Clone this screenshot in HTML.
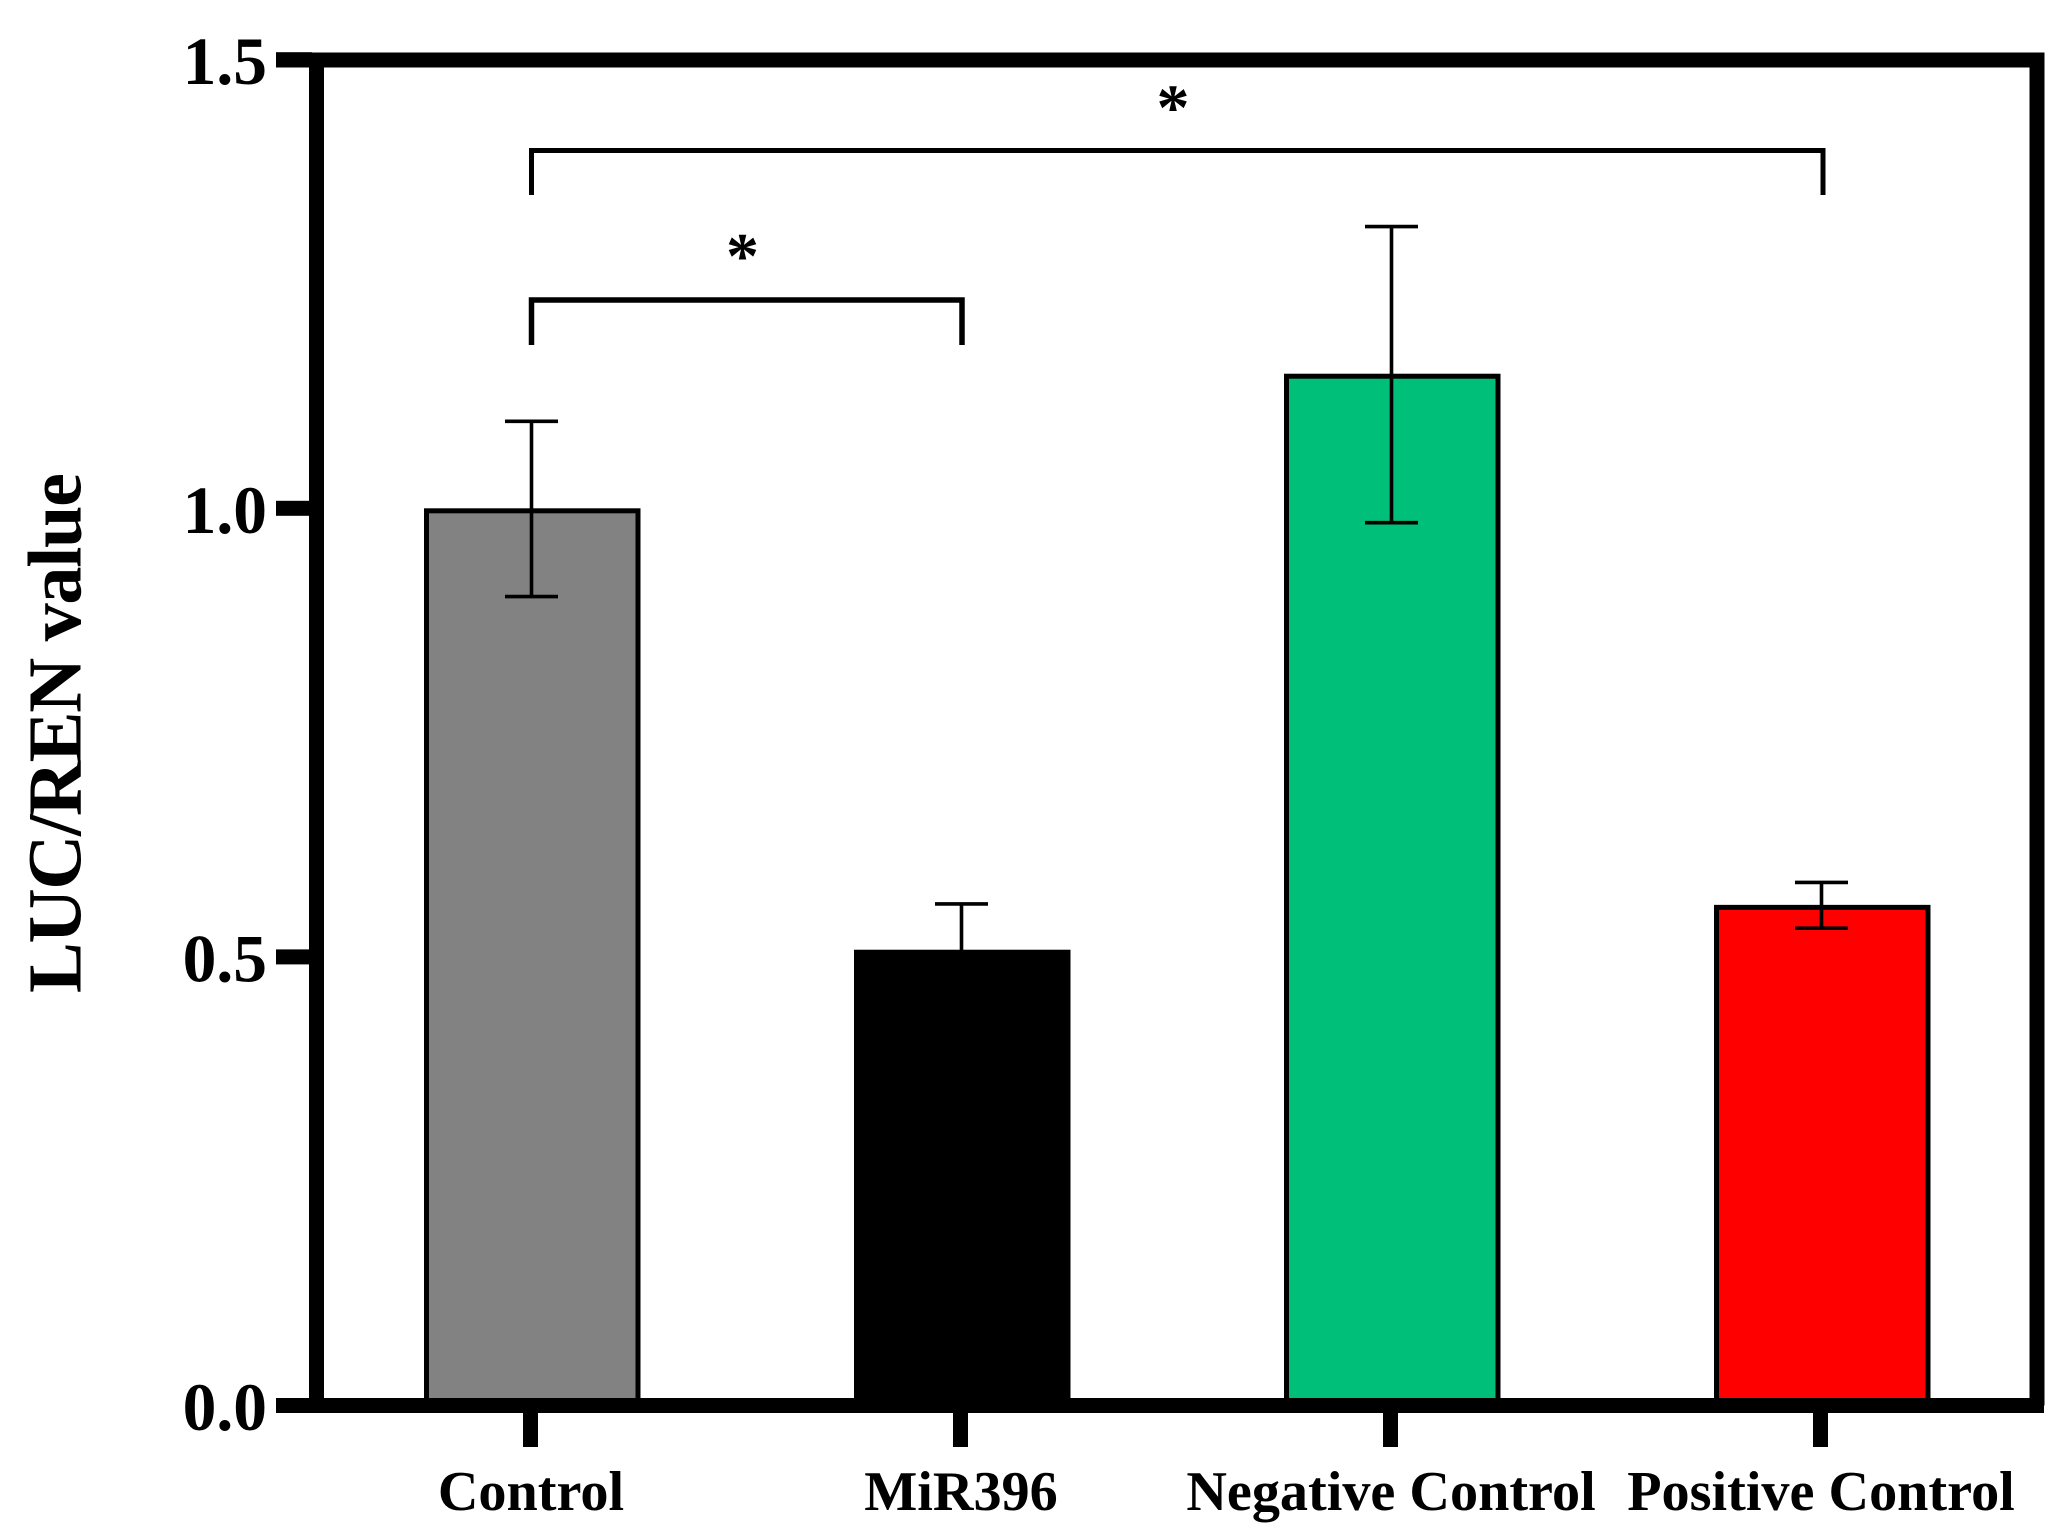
<!DOCTYPE html>
<html lang="en">
<head>
<meta charset="utf-8">
<title>LUC/REN value bar chart</title>
<style>
html,body{margin:0;padding:0;background:#fff;width:2068px;height:1538px;overflow:hidden}
svg{display:block;font-family:"Liberation Serif",serif;font-weight:bold}
</style>
</head>
<body>
<svg id="chart" xmlns="http://www.w3.org/2000/svg" width="2068" height="1538" viewBox="0 0 2068 1538"></svg>
<script>
const categories = ["Control", "MiR396", "Negative Control", "Positive Control"];
const barValues = [1.0, 0.508, 1.15, 0.558];
const errorUpper = [1.097, 0.559, 1.314, 0.583];
const errorLower = [0.9016, 0.457, 0.984, 0.532];
const barColors = ["#828282", "#000000", "#00bf78", "#ff0000"];
const yTickValues = [0, 0.5, 1.0, 1.5];
const yTickLabels = ["0.0", "0.5", "1.0", "1.5"];
const yAxisTitle = "LUC/REN value";

const svg = document.getElementById('chart');
const NS = 'http://www.w3.org/2000/svg';
function y(v){ return 1405.5 - v * 897.2; }
function x(i){ return 531.5 + i * 430; }
function add(tag, attrs, text){
  const el = document.createElementNS(NS, tag);
  for (const k in attrs) el.setAttribute(k, attrs[k]);
  if (text !== undefined) el.textContent = text;
  svg.appendChild(el);
  return el;
}

// bars
categories.forEach(function(c, i){
  const top = y(barValues[i]);
  const bar = add('rect', {x: x(i) - 105, y: top + 2.5, width: 211.5, height: 1400 - top, fill: barColors[i], stroke: '#000', 'stroke-width': 5});
  
  
});

// error bars
categories.forEach(function(c, i){
  const cx = x(i);
  const stem = add('line', {x1: cx, x2: cx, y1: y(errorUpper[i]), y2: y(errorLower[i]), stroke: '#000', 'stroke-width': 3.6});
  
  
  const capTop = add('line', {x1: cx - 26.5, x2: cx + 26.5, y1: y(errorUpper[i]), y2: y(errorUpper[i]), stroke: '#000', 'stroke-width': 3.6});
  
  
  const capBottom = add('line', {x1: cx - 26.5, x2: cx + 26.5, y1: y(errorLower[i]), y2: y(errorLower[i]), stroke: '#000', 'stroke-width': 3.6});
  
  
});

// frame
const frame = add('path', {d: 'M276 60 H2037 V1405.5 M316.5 60 V1405.5 M276 1405.5 H2044', fill: 'none', stroke: '#000', 'stroke-width': 15});



// y ticks and labels
yTickValues.forEach(function(v, i){
  const t = add('rect', {x: 276, y: y(v) - 7.5, width: 36, height: 15, fill: '#000'});
  
  
  const l = add('text', {x: 267, y: y(v) + 24.5, 'text-anchor': 'end', 'font-size': 67.5, fill: '#000'}, yTickLabels[i]);
  
  
});

// x ticks and labels
categories.forEach(function(c, i){
  const t = add('rect', {x: x(i) - 8.5, y: 1410, width: 15, height: 37, fill: '#000'});
  
  
  const l = add('text', {x: x(i) - 0.5, y: 1510, 'text-anchor': 'middle', 'font-size': 56.2, fill: '#000'}, c);
  
  
});

// y axis title
const title = add('text', {transform: 'translate(80.5 993) rotate(-90)', 'font-size': 76.3, textLength: 520, lengthAdjust: 'spacing', fill: '#000'}, yAxisTitle);



// significance brackets
const b1 = add('path', {d: 'M531.5 345 V300 H962 V345', fill: 'none', stroke: '#000', 'stroke-width': 5.5});


const b2 = add('path', {d: 'M531.5 195 V150.5 H1823 V195', fill: 'none', stroke: '#000', 'stroke-width': 5});


const s1 = add('text', {x: 742.5, y: 278, 'text-anchor': 'middle', 'font-size': 66, fill: '#000'}, '*');


const s2 = add('text', {x: 1173, y: 129.5, 'text-anchor': 'middle', 'font-size': 66, fill: '#000'}, '*');


</script>
</body>
</html>
